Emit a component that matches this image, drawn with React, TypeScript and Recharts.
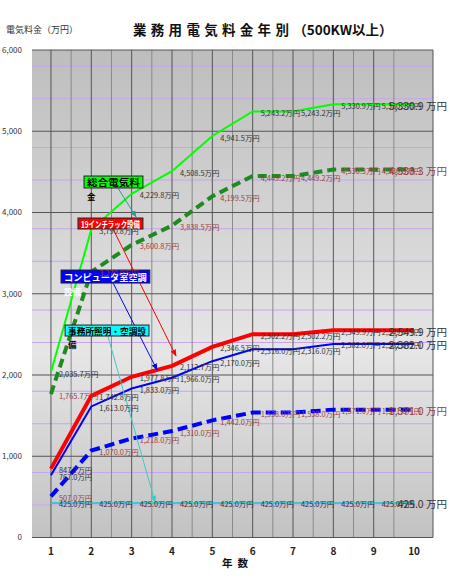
import React from "react";
import {
  CartesianGrid,
  LabelList,
  Line,
  LineChart,
  ReferenceArea,
  ReferenceLine,
  XAxis,
  YAxis,
} from "recharts";

const FONT = "'Noto Sans CJK JP', 'Noto Sans', sans-serif";

// 年数
const years = [1, 2, 3, 4, 5, 6, 7, 8, 9, 10];

// 総合電気料金 (solid green) and its dashed counterpart
const totalCost = [2035.7, 3790.8, 4229.8, 4508.5, 4941.5, 5243.2, 5243.2, 5330.9, 5330.9, 5330.9];
const totalCostB = [1765.7, 3270.0, 3600.8, 3838.5, 4199.5, 4449.2, 4449.2, 4530.3, 4530.3, 4530.3];
// 19インチラック設備
const rackCost = [847.7, 1742.8, 1977.8, 2112.7, 2346.5, 2502.2, 2502.2, 2549.9, 2549.9, 2549.9];
// コンピュータ室空調設備 (solid blue) and dashed counterpart
const roomCost = [767.0, 1613.0, 1833.0, 1966.0, 2170.0, 2316.0, 2316.0, 2382.0, 2382.0, 2382.0];
const roomCostB = [507.0, 1070.0, 1218.0, 1310.0, 1442.0, 1538.0, 1538.0, 1571.0, 1571.0, 1571.0];
// 事務所照明・空調設備
const officeCost = [425.0, 425.0, 425.0, 425.0, 425.0, 425.0, 425.0, 425.0, 425.0, 425.0];

const yTicks = [0, 1000, 2000, 3000, 4000, 5000, 6000];
const yMinor = [200, 400, 600, 800, 1200, 1400, 1600, 1800, 2200, 2400, 2600, 2800, 3200, 3400, 3600, 3800, 4200, 4400, 4600, 4800, 5200, 5400, 5600, 5800];
const xHalf = [1.5, 2.5, 3.5, 4.5, 5.5, 6.5, 7.5, 8.5, 9.5];

const X_DOMAIN: [number, number] = [0.53, 10.47];

const rows = years.map((year, i) => ({
  year,
  totalCost: totalCost[i],
  totalCostB: totalCostB[i],
  rackCost: rackCost[i],
  roomCost: roomCost[i],
  roomCostB: roomCostB[i],
  officeCost: officeCost[i],
}));

// callout boxes, in data coordinates
const CALLOUTS = [
  { text: "総合電気料", wrap: "金", x1: 1.82, x2: 3.28, y1: 4302, y2: 4449, fill: "#00ff00", color: "#000" },
  { text: "19インチラック設備", wrap: "", x1: 1.67, x2: 3.28, y1: 3797, y2: 3932, fill: "#ff0000", color: "#fff" },
  { text: "コンピュータ室空調", wrap: "設備", x1: 1.25, x2: 3.45, y1: 3132, y2: 3292, fill: "#0000ff", color: "#fff" },
  { text: "事務所照明・空調設", wrap: "備", x1: 1.35, x2: 3.43, y1: 2480, y2: 2615, fill: "#00ffff", color: "#000" },
];

const ARROWS = [
  { id: "a-teal", from: { x: 2.66, y: 4302 }, to: { x: 3.11, y: 3945 }, color: "#2e9c8c" },
  { id: "a-red", from: { x: 2.54, y: 3797 }, to: { x: 4.1, y: 2234 }, color: "#ff0000" },
  { id: "a-blue", from: { x: 2.54, y: 3132 }, to: { x: 3.63, y: 2062 }, color: "#0000ff" },
  { id: "a-cyan", from: { x: 2.41, y: 2480 }, to: { x: 3.58, y: 437 }, color: "#40c8c8" },
];

const SOLID_LABEL = "#333333";
const DASH_LABEL = "#993f3f";

function fmt(v: number, spaced = false) {
  const n = v.toLocaleString("en-US", { minimumFractionDigits: 1, maximumFractionDigits: 1 });
  return spaced ? `${n} 万円` : `${n}万円`;
}

// value label right of each point; the last point gets the big label
function pointLabel(color: string) {
  return (props: any) => {
    const x = props.viewBox?.x ?? props.x;
    const y = props.viewBox?.y ?? props.y;
    const value = Number(props.value);
    if (x == null || y == null) return null;
    if (props.index === years.length - 1) {
      return (
        <text x={x + 33} y={y + 1} textAnchor="end" dominantBaseline="central" fontSize={10.5} fill={color} fontFamily={FONT}>
          {fmt(value, true)}
        </text>
      );
    }
    return (
      <text x={x + 8} y={y + 1} dominantBaseline="central" fontSize={7.4} fill={color} fontFamily={FONT}>
        {fmt(value)}
      </text>
    );
  };
}

function calloutShape(c: (typeof CALLOUTS)[number]) {
  return (p: any) => (
    <g>
      <rect x={p.x} y={p.y} width={p.width} height={p.height} fill={c.fill} stroke="#222" strokeWidth={1} />
      <text
        x={p.x + 3}
        y={p.y + p.height / 2 + 0.5}
        dominantBaseline="central"
        fontSize={9}
        fontWeight={600}
        fill={c.color}
        fontFamily={FONT}
        textLength={p.width - 6}
        lengthAdjust="spacingAndGlyphs"
      >
        {c.text}
      </text>
      {c.wrap ? (
        <text
          x={p.x + 3}
          y={p.y + p.height + 8}
          dominantBaseline="central"
          fontSize={8.5}
          fontWeight={600}
          fill={c.color}
          fontFamily={FONT}
        >
          {c.wrap}
        </text>
      ) : null}
    </g>
  );
}

export default function App() {
  return (
    <div style={{ position: "relative", width: 450, height: 578, background: "#fff", fontFamily: FONT }}>
      <style>{"body{margin:0}"}</style>
      <LineChart width={450} height={578} data={rows} margin={{ top: 50, right: 17, bottom: 0, left: 0 }}>
        <defs>
          <linearGradient id="plotBg" x1="0" y1="0" x2="0" y2="1">
            <stop offset="0%" stopColor="#bdbdbd" />
            <stop offset="62%" stopColor="#e6e6e6" />
            <stop offset="100%" stopColor="#c2c2c2" />
          </linearGradient>
          {ARROWS.map((a) => (
            <marker
              key={a.id}
              id={a.id}
              viewBox="0 0 10 10"
              refX="9"
              refY="5"
              markerUnits="userSpaceOnUse"
              markerWidth="7"
              markerHeight="7"
              orient="auto"
            >
              <path d="M0,1 L10,5 L0,9 z" fill={a.color} />
            </marker>
          ))}
        </defs>

        <CartesianGrid fill="url(#plotBg)" fillOpacity={1} horizontalValues={yMinor} vertical={false} stroke="#c9a3ee" strokeWidth={1} />
        <CartesianGrid horizontal={false} verticalValues={xHalf} stroke="#8a8a8a" strokeWidth={1} />
        <CartesianGrid
          horizontalValues={yTicks}
          verticalValues={[X_DOMAIN[0], ...years, X_DOMAIN[1]]}
          stroke="#555"
          strokeWidth={1}
        />

        <XAxis
          dataKey="year"
          type="number"
          domain={X_DOMAIN}
          ticks={years}
          height={40.5}
          axisLine={false}
          tickLine={false}
          tickSize={0}
          tickMargin={10}
          tick={{ fontSize: 10, fontWeight: 700, fill: "#222", fontFamily: FONT }}
        />
        <YAxis
          domain={[0, 6000]}
          ticks={yTicks}
          width={32}
          axisLine={false}
          tickLine={false}
          tickSize={0}
          tickMargin={10}
          tickFormatter={(v: number) => v.toLocaleString("en-US")}
          tick={{ fontSize: 8, fill: "#333", fontFamily: FONT }}
        />

        <Line dataKey="totalCostB" stroke="#1f8a1f" strokeWidth={4} strokeDasharray="9 5" dot={false} isAnimationActive={false}>
          <LabelList dataKey="totalCostB" content={pointLabel(DASH_LABEL)} />
        </Line>
        <Line dataKey="totalCost" stroke="#00ff00" strokeWidth={2} dot={false} isAnimationActive={false}>
          <LabelList dataKey="totalCost" content={pointLabel(SOLID_LABEL)} />
        </Line>
        <Line dataKey="roomCostB" stroke="#0000ff" strokeWidth={4} strokeDasharray="10 5" dot={false} isAnimationActive={false}>
          <LabelList dataKey="roomCostB" content={pointLabel(DASH_LABEL)} />
        </Line>
        <Line dataKey="roomCost" stroke="#0000ff" strokeWidth={2} dot={false} isAnimationActive={false}>
          <LabelList dataKey="roomCost" content={pointLabel(SOLID_LABEL)} />
        </Line>
        <Line dataKey="rackCost" stroke="#ff0000" strokeWidth={4} dot={false} isAnimationActive={false}>
          <LabelList dataKey="rackCost" content={pointLabel(SOLID_LABEL)} />
        </Line>
        <Line dataKey="officeCost" stroke="#40c8c8" strokeWidth={2} dot={false} isAnimationActive={false}>
          <LabelList dataKey="officeCost" content={pointLabel(SOLID_LABEL)} />
        </Line>

        {ARROWS.map((a) => (
          <ReferenceLine
            key={a.id}
            segment={[a.from, a.to]}
            ifOverflow="visible"
            zIndex={1500}
            shape={(p: any) => (
              <line x1={p.x1} y1={p.y1} x2={p.x2} y2={p.y2} stroke={a.color} strokeWidth={1} markerEnd={`url(#${a.id})`} />
            )}
          />
        ))}
        {CALLOUTS.map((c) => (
          <ReferenceArea
            key={c.text}
            x1={c.x1}
            x2={c.x2}
            y1={c.y1}
            y2={c.y2}
            ifOverflow="visible"
            zIndex={1600}
            shape={calloutShape(c)}
          />
        ))}
      </LineChart>

      <svg width={450} height={578} style={{ position: "absolute", left: 0, top: 0, pointerEvents: "none" }}>
        <text x={6} y={33} fontSize={9} fill="#333" fontFamily={FONT}>
          電気料金（万円）
        </text>
        <text x={133} y={35} fontSize={13.5} fontWeight={700} fill="#111" fontFamily={FONT}>
          <tspan letterSpacing={4.3}>業務用電気料金年別</tspan>
          <tspan>（500KW以上）</tspan>
        </text>
        <text x={222} y={567} fontSize={10.5} fontWeight={700} fill="#111" fontFamily={FONT} letterSpacing={5}>
          年数
        </text>
      </svg>
    </div>
  );
}
